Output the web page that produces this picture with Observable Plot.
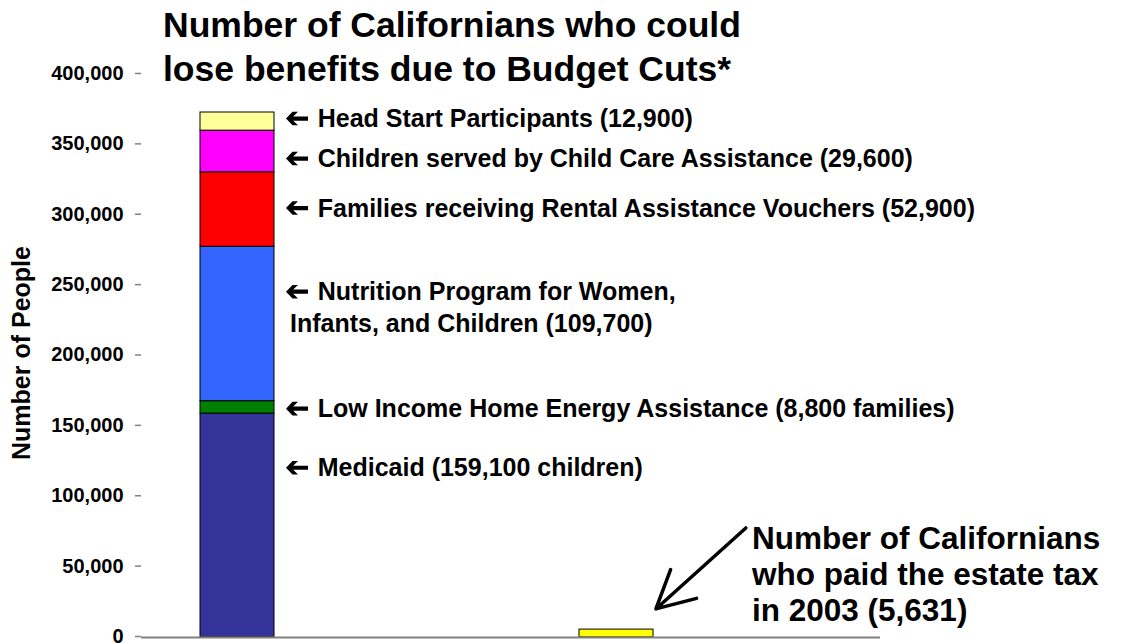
<!DOCTYPE html>
<html>
<head>
<meta charset="utf-8">
<script src="https://cdn.jsdelivr.net/npm/d3@7"></script>
<script src="https://cdn.jsdelivr.net/npm/@observablehq/plot@0.6"></script>
<style>
  html, body { margin: 0; padding: 0; background: #fff; }
  #wrap { position: relative; width: 1122px; height: 643px; font-family: "Liberation Sans", Arial, sans-serif; }
  #title { position: absolute; left: 163px; top: 3px; font-weight: bold; font-size: 35.5px; line-height: 44px; color: #000; white-space: nowrap; }
</style>
</head>
<body>
<div id="wrap">
  <div id="chart"></div>
  <div id="title">Number of Californians who could<br>lose benefits due to Budget Cuts*</div>
</div>
<script>
// ---- data ----
const programs = [
  "Medicaid (159,100 children)",
  "Low Income Home Energy Assistance (8,800 families)",
  "Nutrition Program for Women,\n Infants, and Children (109,700)",
  "Families receiving Rental Assistance Vouchers (52,900)",
  "Children served by Child Care Assistance (29,600)",
  "Head Start Participants (12,900)"
];
const people = [159100, 8800, 109700, 52900, 29600, 12900];
const programColors = ["#333399", "#008000", "#3366FF", "#FF0000", "#FF00FF", "#FFFF99"];
// level (people) at which each arrow label points beside the stacked bar
const labelAt = [120600, 162600, 245700, 305100, 340300, 368700];

const categories = ["Budget cuts", "Estate tax", "note"];
const estateTaxPayers = 5631;
const estateColor = "#FFFF00";
const estateNote = "Number of Californians\nwho paid the estate tax\nin 2003 (5,631)";
const estateNoteAt = 45300;             // level of the note's middle line
const estateArrowFrom = 237600;          // arrow leaves the note column at this level
const estateArrowTo = -4900;             // and heads to the estate-tax bar at this level
const yTicks = [0, 50000, 100000, 150000, 200000, 250000, 300000, 350000, 400000];
const yLabel = "Number of People";

// ---- build tables ----
const stack = programs.map((p, i) => ({category: categories[0], program: p, value: people[i], order: i}));
const labels = programs.map((p, i) => ({category: categories[0], text: p, y: labelAt[i]}));
const NBSP5 = "\u00a0\u00a0\u00a0\u00a0\u00a0";

// bold left-pointing arrow used as a dot symbol
const leftArrow = {
  draw(context, size) {
    const s = Math.sqrt(size / Math.PI) / 8;
    const pts = [[-11, 0], [-4.5, -6.8], [1, -6.8], [-3.8, -2.1], [11, -2.1], [11, 2.1], [-3.8, 2.1], [1, 6.8], [-4.5, 6.8]];
    context.moveTo(pts[0][0] * s, pts[0][1] * s);
    for (const [px, py] of pts.slice(1)) context.lineTo(px * s, py * s);
    context.closePath();
  }
};

const font = "'Liberation Sans', Arial, sans-serif";
const chart = Plot.plot({
  width: 1122,
  height: 643,
  marginTop: 74,
  marginBottom: 6,
  marginLeft: 141,
  marginRight: 242,
  style: {fontFamily: font, fontWeight: "bold", fontSize: "20px", color: "#000", background: "#fff", overflow: "visible"},
  x: {type: "band", domain: categories, range: [199.5, 1031.5], paddingInner: 0.805, paddingOuter: 0, axis: null},
  y: {domain: [0, 400000], axis: null},
  color: {domain: programs, range: programColors},
  marks: [
    Plot.axisY({ticks: yTicks, tickFormat: d3.format(","), tickSize: 6, tickPadding: 12, fontSize: 20, fontWeight: "bold", label: null, stroke: "#808080", strokeWidth: 1.5, fill: "#000", dy: -1}),
    Plot.ruleX([0], {frameAnchor: "left", stroke: "#808080", strokeWidth: 1.8}),
    Plot.text([yLabel], {frameAnchor: "left", text: d => d, rotate: -90, textAnchor: "middle", dx: -120, dy: -3, fontSize: 25, fontWeight: "bold", fill: "#000"}),
    Plot.barY(stack, {x: "category", y: "value", fill: "program", order: "order", stroke: "#000", strokeWidth: 1}),
    Plot.barY([{category: categories[1], value: estateTaxPayers}], {x: "category", y: "value", fill: estateColor, stroke: "#000", strokeWidth: 1}),
    Plot.ruleY([0], {stroke: "#808080", strokeWidth: 1.8}),
    Plot.dot(labels, {x: "category", y: "y", symbol: leftArrow, r: 8, fill: "#000", stroke: "none", dx: 59.5}),
    Plot.text(labels, {x: "category", y: "y", text: d => d.text.split("\n").map((l, i) => i === 0 ? NBSP5 + l : l).join("\n"), dx: 45.5, dy: -14, textAnchor: "start", lineAnchor: "top", fontSize: 25, fontWeight: "bold", lineHeight: 1.28, fill: "#000"}),
    Plot.text([estateNote], {x: () => categories[2], y: () => estateNoteAt, text: d => d, dx: -243.5, textAnchor: "start", lineAnchor: "middle", fontSize: 31.5, fontWeight: "bold", lineHeight: 1.14, fill: "#000"}),
    Plot.arrow([estateTaxPayers], {x1: () => categories[2], y1: () => estateArrowFrom, x2: () => categories[1], y2: () => estateArrowTo, insetStart: 336, insetEnd: 53, stroke: "#000", strokeWidth: 3.5, headLength: 18, headAngle: 55})
  ]
});
document.getElementById("chart").appendChild(chart);
</script>
</body>
</html>
